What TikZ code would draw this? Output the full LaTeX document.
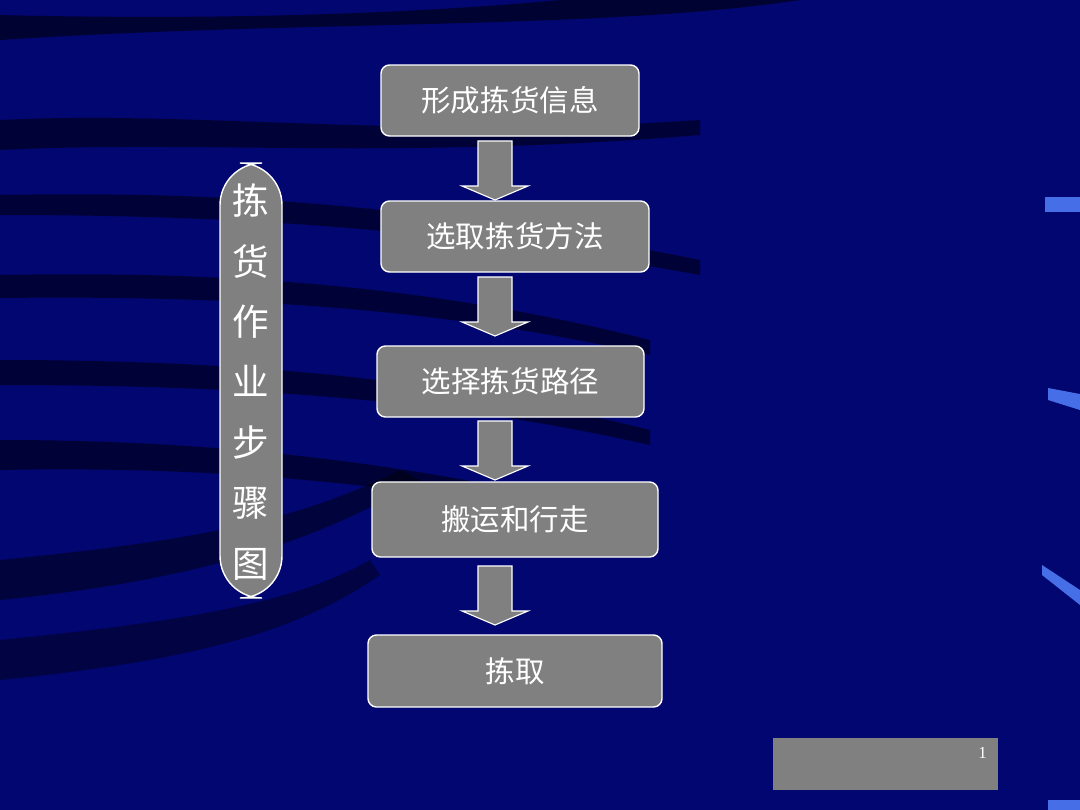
\documentclass[tikz,border=0pt]{standalone}
\usepackage{fontspec}
\newfontfamily\cjk{Noto Sans CJK SC}
\setmainfont{Liberation Serif}
\definecolor{bg}{RGB}{2,6,112}
\definecolor{boxg}{RGB}{128,128,128}
\definecolor{markc}{RGB}{70,110,230}
\begin{document}
\begin{tikzpicture}[x=0.025cm,y=-0.025cm,
  stepbox/.style={draw=white,line width=1pt,fill=boxg,rounded corners=6pt,text=white,font=\cjk\fontsize{21}{24}\selectfont,inner sep=0pt},
  blk/.style={draw=white,line width=0.8pt,fill=boxg}]
\fill[bg] (0,0) rectangle (1080,810);
\useasboundingbox (0,0) rectangle (1080,810);
% dark streaks
\fill[black,opacity=0.55] (0,40) .. controls (300,20) and (600,30) .. (800,0) -- (560,0) .. controls (400,15) and (200,20) .. (0,15) -- cycle;
\fill[black,opacity=0.5] (0,120) .. controls (200,110) and (400,140) .. (700,120) -- (700,135) .. controls (400,160) and (200,140) .. (0,150) -- cycle;
\fill[black,opacity=0.5] (0,195) .. controls (250,190) and (450,210) .. (700,260) -- (700,275) .. controls (450,230) and (250,215) .. (0,215) -- cycle;
\fill[black,opacity=0.5] (0,275) .. controls (250,270) and (450,290) .. (650,340) -- (650,355) .. controls (450,310) and (250,295) .. (0,298) -- cycle;
\fill[black,opacity=0.5] (0,360) .. controls (250,360) and (450,380) .. (650,430) -- (650,445) .. controls (450,400) and (250,385) .. (0,385) -- cycle;
\fill[black,opacity=0.5] (0,440) .. controls (250,440) and (450,470) .. (650,520) -- (650,535) .. controls (450,490) and (250,465) .. (0,470) -- cycle;
\fill[black,opacity=0.45] (0,560) .. controls (200,540) and (300,520) .. (400,470) -- (420,480) .. controls (320,540) and (200,580) .. (0,600) -- cycle;
\fill[black,opacity=0.4] (0,640) .. controls (200,620) and (300,600) .. (370,560) -- (380,575) .. controls (300,630) and (200,660) .. (0,680) -- cycle;
% right marks
\fill[markc] (1045,197) rectangle (1080,212);
\fill[markc] (1048,388) -- (1080,394) -- (1080,410) -- (1048,400) -- cycle;
\fill[markc] (1042,565) -- (1080,590) -- (1080,605) -- (1042,575) -- cycle;
\fill[markc] (1048,800) rectangle (1080,810);
% boxes
\node[stepbox,minimum width=258*0.025cm,minimum height=71*0.025cm] (b1) at (510,100.5) {形成拣货信息};
\node[stepbox,minimum width=268*0.025cm,minimum height=71*0.025cm] (b2) at (515,236.5) {选取拣货方法};
\node[stepbox,minimum width=267*0.025cm,minimum height=71*0.025cm] (b3) at (510.5,381.5) {选择拣货路径};
\node[stepbox,minimum width=286*0.025cm,minimum height=75*0.025cm] (b4) at (515,519.5) {搬运和行走};
\node[stepbox,minimum width=294*0.025cm,minimum height=72*0.025cm] (b5) at (515,671) {拣取};
% block arrows
\foreach \t in {141,277,421,566}{
  \draw[blk] (478,\t) -- (512,\t) -- (512,\t+45) -- (528,\t+45) -- (495,\t+59) -- (462,\t+45) -- (478,\t+45) -- cycle;
}
\node[draw=white,line width=1pt,fill=boxg,rounded corners=30pt,minimum width=62*0.025cm,minimum height=435*0.025cm,inner sep=0pt] (side) at (251,380.5) {};
\node[text=white,font=\cjk\fontsize{26}{43}\selectfont,align=center] (sidet) at (251,382) {拣\\货\\作\\业\\步\\骤\\图};
\node[fill=boxg,minimum width=225*0.025cm,minimum height=52*0.025cm,inner sep=0pt] (pg) at (885.5,764) {};
\node[text=white,font=\fontsize{12}{14}\selectfont,anchor=north east,inner sep=2pt] (pgn) at (990,744) {1};
\end{tikzpicture}
\end{document}
